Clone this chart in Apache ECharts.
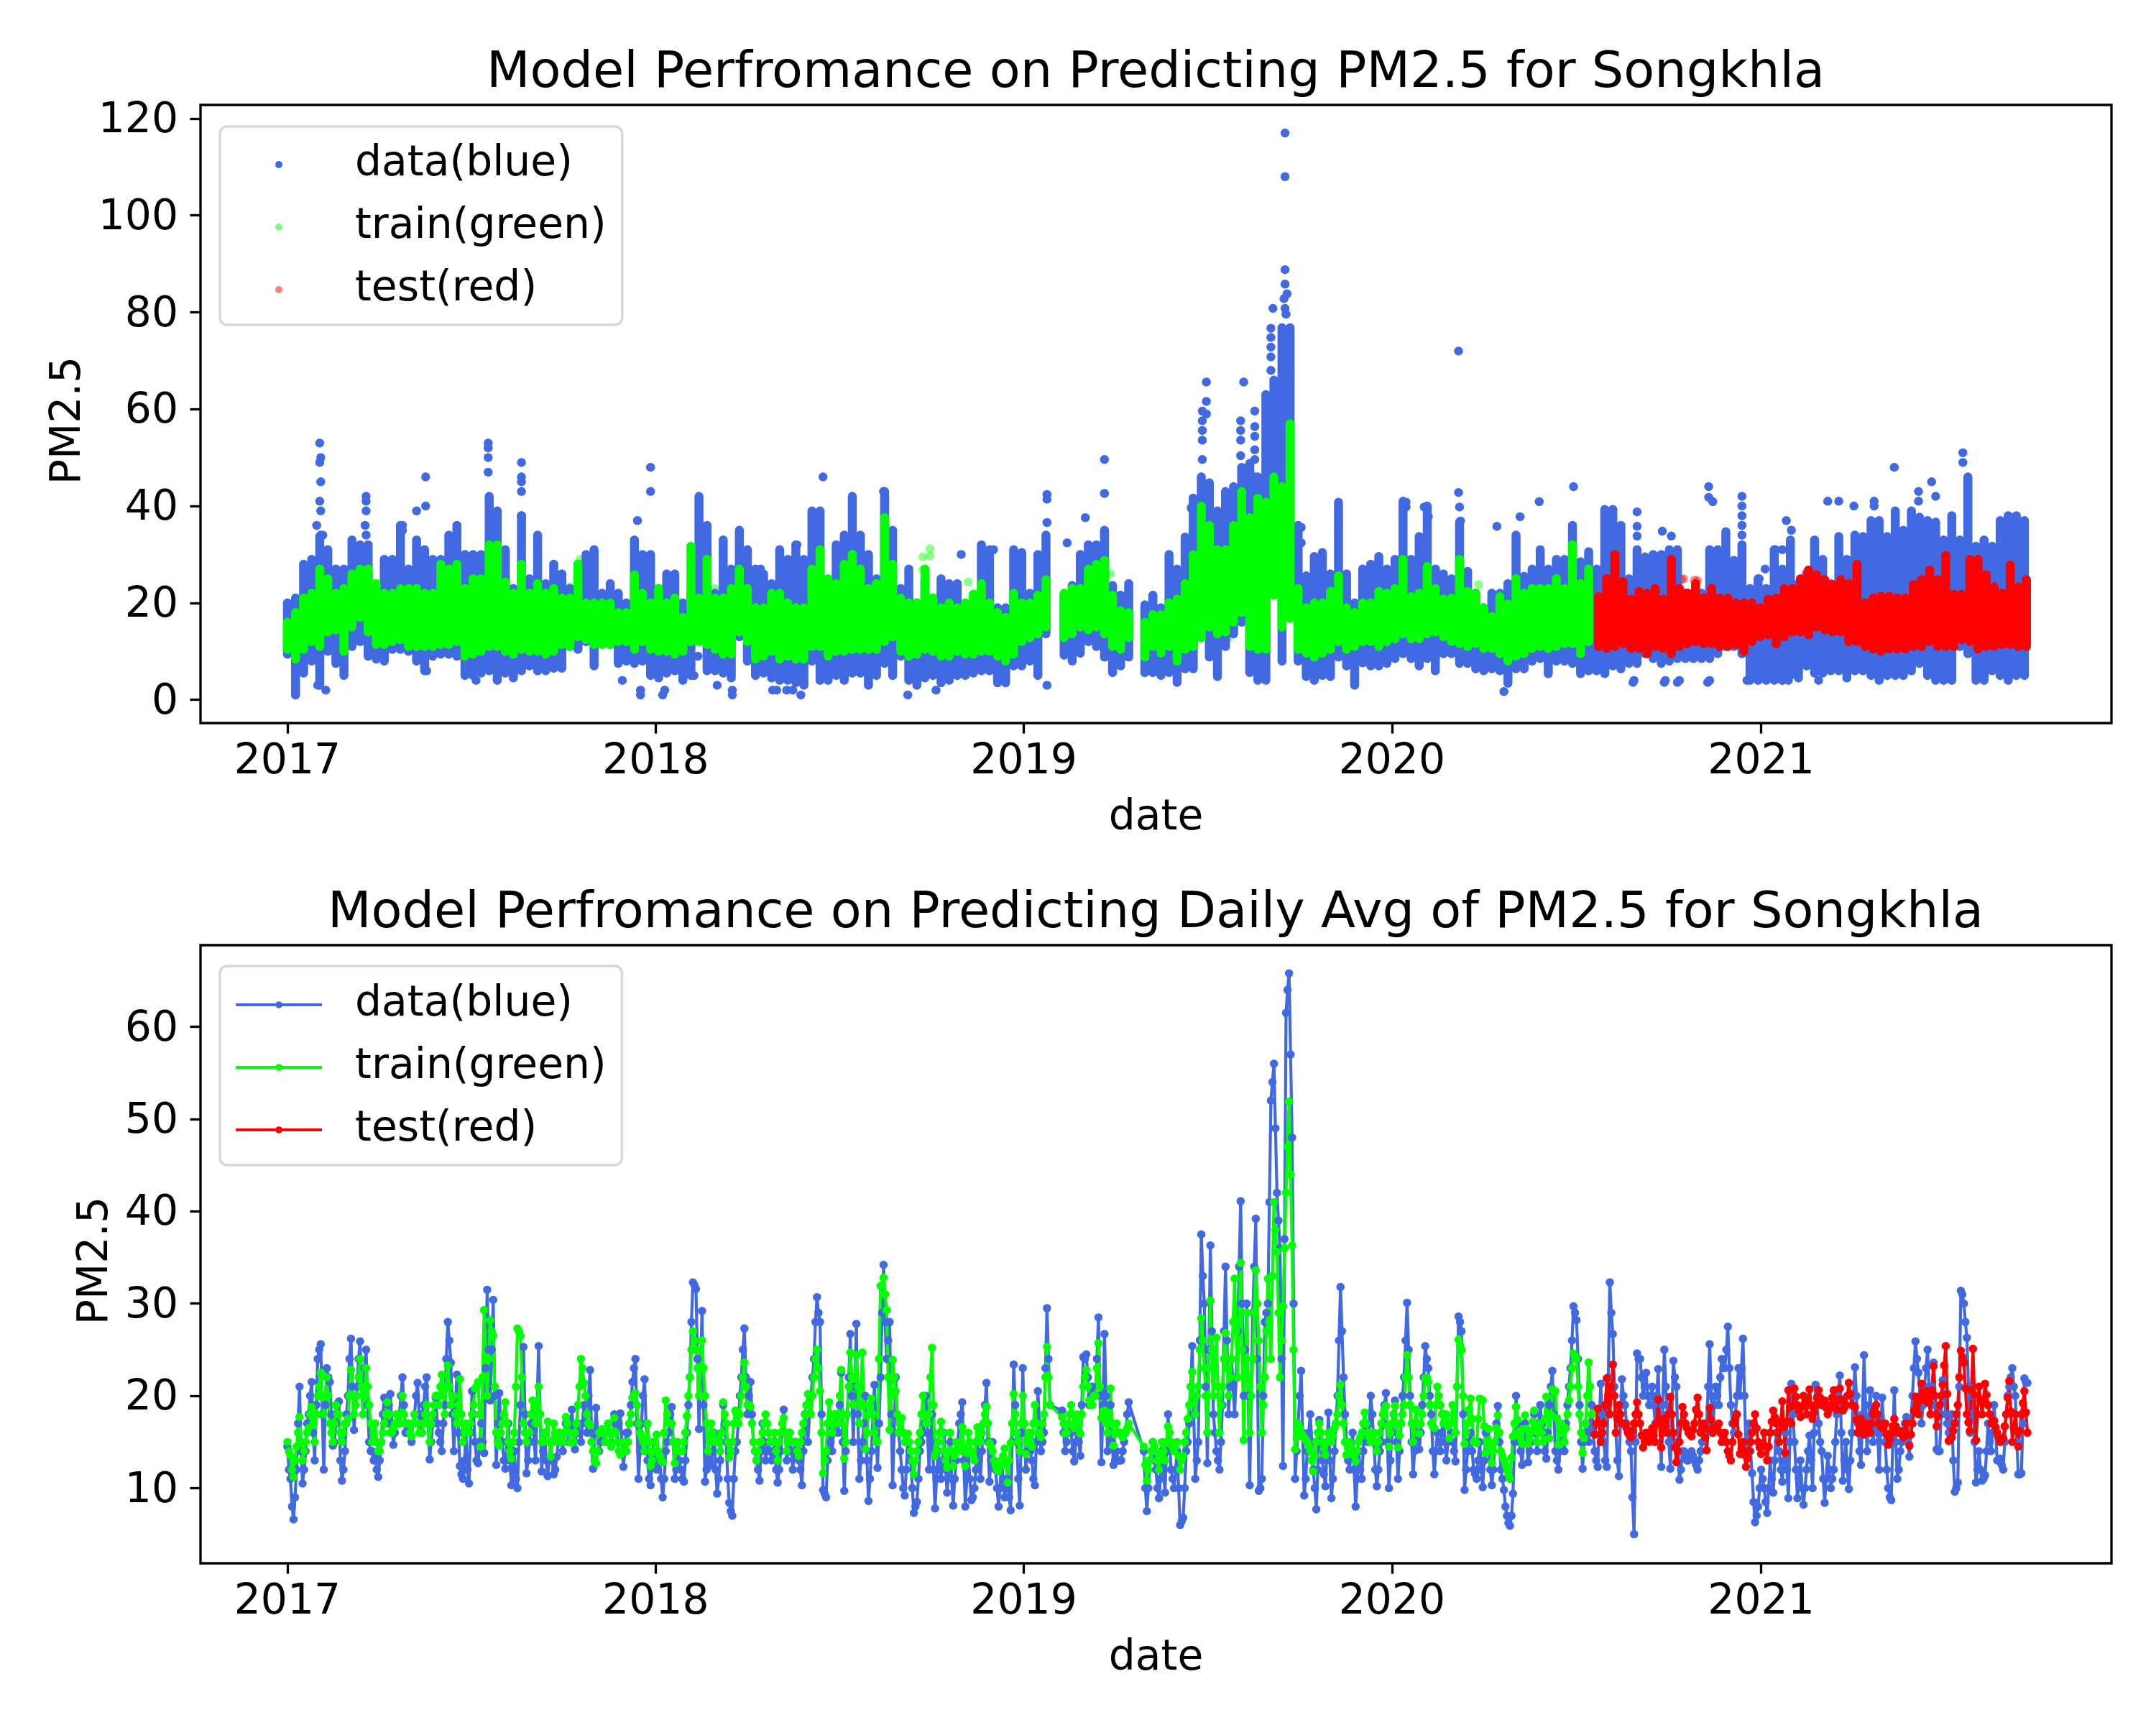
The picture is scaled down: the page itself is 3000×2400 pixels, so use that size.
<!DOCTYPE html>
<html><head><meta charset="utf-8">
<style>html,body{margin:0;padding:0;background:#fff}#c{width:3000px;height:2400px}</style>
<script src="https://cdn.jsdelivr.net/npm/echarts@6/dist/echarts.min.js"></script>
</head><body><div id="c"></div>
<script>
const topTitle='Model Perfromance on Predicting PM2.5 for Songkhla';
const bottomTitle='Model Perfromance on Predicting Daily Avg of PM2.5 for Songkhla';
const tickYears=[2017,2018,2019,2020,2021];
const topYTicks=[0,20,40,60,80,100,120];
const bottomYTicks=[10,20,30,40,50,60];
const seriesNames=['data(blue)','train(green)','test(red)'];

// TOP PANEL: hourly readings, seen as a solid range per 8-day column (days since 2017-01-01)
const colStartsA=0, colCountA=95;      // 2017-01-01 .. early 2019
const colStartsB=770, colCountB=9;     // between the two data gaps of 2019
const colStartsC=850, colCountC=110;   // rest of the record
const blueHi=[20,21,28,29,33.7,31,27,27,33,32,
32,21,29,29,36,27,33,31,29,29,
34,36,30,30,30,42,39,31,23,38,
25,34,24,28,26,23,28,30,31,22,
24,22,20,33,30,30,23,26,26,20,
22,42,36,22,33,27,35,31,27,26,
24,31,29,32,29,39,39,23,32,34,
42,34,30,25,43,35,23,27,20,25,
21,25,24,24,19,20,32,31,19,19,
31,30.4,22,30,34,
21.6,23.6,30,32,32,35,23.6,21.6,24,
19.6,21.6,19,30,27,33.6,41.6,46,44.8,39,
43,44,48,48.8,46,63,66,76.8,76.8,36,
25.6,29.6,30.4,26,40.8,26,20,27,28,29.6,
27,29,41,29,33.7,40,27,26,25,36.7,
26.5,22,19,22,22,24,34,25.5,27,31,
27,29,29,36,28.5,30.6,27,39.3,39.3,36,
25,31,29.5,30,30,31,31,22,22,22,
31,31,34.7,28.8,31.7,23,25,23,31,27,
33,24,26,33,29,24,33.7,29,34,33.7,
37,37,33.7,39,35,39,37.7,37,36.7,33,
38,33,46,31.7,33,31.7,37,38,38,37];
const blueLo=[9.4,1,5.5,8,3,10,7.5,5,11,12,
9,8.4,8,10.4,10.4,10,8,6,9,9.4,
9.4,9,5,5,5.5,6,4,5.5,4.5,6,
7,6,6,6.5,6.5,11,10.4,12,7,12,
11.4,7.5,8,7.5,8,5,4.5,5.5,6,4,
5,13,6,6,5.5,4.5,13,8,5,5.5,
4.5,4,4,3.5,3,8,4,4,5,4,
5.5,5.5,3,5,7.5,5,9,4,3,4.5,
5,3.5,4,5,5,5.5,6,6,3.5,3.5,
7,7,8,5,13.6,
9.2,8,9.6,12,11,8.8,5.6,7,8.8,
5.6,5.6,5,5.6,3.6,6.4,6.4,13.6,8.8,4.8,
11,13.6,16,5.6,4,4,21.6,8,20.8,8,
4.8,4,5,4.8,8.8,7,3,7.6,7,7,
7.5,8.5,9.5,8.5,7,8.5,6,9.5,9.5,7.5,
7.5,6.4,6,6.4,6,3.4,6.4,6.4,8,8.5,
5.4,8,8,7.5,5.4,6,6,5.4,7,6.4,
7.5,7.5,9.5,8.5,7.5,8,8.5,8.5,8.5,8.5,
8.5,9.5,11,11,9.5,4,4,4,4,4,
5,4.5,7,5.5,5.5,6,6,4.5,6,6,
5,4,5,5,5,6,7.5,5,4,4,
4,11,9.5,4,4,6,5,4,5,5];
const greenHi=[16,18,21,22,27,25,22,23,26,27,
27,24,22,22,23,23,23,22,22,28,
27,28,23,25,25,32,32,24.3,22,28,
22,24,22,23,21,21,28,20,20,20,
20,18,18,25.8,22,20,23,20,21,17,
31.7,21,29,21,21,23,27,23,19,19,
22,22,20,19,19,27,31,25,24,28,
30,27,23,24,37.6,28,21,20,20,27,
21,19,20,19,20,21.8,24,20,18,17,
22,20,20,21.6,24.8,
22,23,23,27,28,28.8,21.6,18.4,18,
16,17.6,17.6,20,20.8,24,30,40,36,31,
31,36,43,37.6,41.6,40.8,46,44,57,23,
19,20,20,22.4,25.6,19,18,20,20,22.4,
22,23,29,21.3,22,27.5,23,20.8,21,29,
22.4,22,19,17.2,21.3,19.8,25,22,23,23,
23,25,23,32,24,27];
const greenLo=[10.4,8.4,10.4,12,11,14,14.4,10,15,17,
14,11.4,11.4,12,12.4,11,11,11,11,11.4,
11.4,12,9,9.4,10,11,11,10,9.4,10.4,
10,10,9.4,10,11.4,11,13,12.4,11.4,11.4,
11.4,12,12,10.4,12,10.4,10,10,9.4,10,
12,12,11.4,10.4,9.4,9.4,14,12,8.4,9,
10,8.4,9,8.4,8.4,11,11,9,10,10,
10.4,10.4,10.4,10.4,12,13,10,9,9.4,10.4,
10,9,9,10,9.4,9.4,10,10,9,8,
9.4,12,12.8,13.6,15,
12.8,13.6,15,14.4,15,13.6,11,10.4,12.8,
8.8,11,9.6,11,8,10.4,11,12.8,15,13.6,
14,16,18,11,10.4,10.4,21.6,15,16.8,10.4,
9.6,8.8,9.6,10.4,12,10.4,11,12,12,11,
12,12.6,13.6,12.6,12.6,13.6,14,13,12,11.6,
11,11.6,10.6,10.6,9.5,8,9,9.5,10.6,11,
10.6,11,11.6,11.6,9.5,12];
const redStart=1300;
const redHi=[21.3,25,30,24.4,20.8,22.4,22,23,20.8,29,
23,22,24,21,23,21,21,20,20,20,
19,20.8,21,23,23,25,26.8,25.8,24.8,23.8,
24.8,24,28,20,21,21.4,21.4,21,21,23.8,
24.8,26.8,24.8,29.8,21.8,21.8,29,29,25.8,23.3,
22,27.8,23.3,24.8];
const redLo=[11,10.6,11,11.6,10.6,10.6,9.5,11,10.6,9.5,
11,11.6,12,11.6,11.6,11,11,11.4,10,12,
13,13.4,11.5,13,14,14,13.4,15,14.4,14,
14,12,12,11,10.5,10,10.5,10.5,10.5,11,
11,12,11,11,11,12.4,12,10.5,11,11,
11.4,11.4,11,11];
// isolated readings that stand clear of the ranges
const blueDotDays=[32,33,32,33,32,33,29,33,35,78,78,78,77,78,137,137,128,114,114,199,199,199,199,232,232,232,232,232,347,332,350,350,38,30,8,187,138,360,360,372,374,441,441,531,481,485,495,501,509,615,643,591,426,403,407,469,668,505,700,989,989,989,989,991,988,989,990,977,975,975,975,975,975,911,911,911,907,907,907,907,907,948,959,959,959,959,959,959,945,945,945,945,753,753,753,753,810,810,791,773,898,896,1005,1005,1161,1161,1162,1163,1109,1109,1127,1131,1241,1222,1199,1275,1338,1338,1338,1363,1372,1334,1365,1378,1408,1206,1409,1409,1413,1661,1661,1593,1630,1617,1617,1634,1527,1538,1553,1573,1573,1442,1442,1442,1442,1442,1442,1335,1366,1380,1410,1447,1482,1488,1518,1486,1491,1475,1482,1465,1459];
const blueDotVals=[53,50,49,45,41,39,36,34,34,42,41,39,36,34,46,40,39,36,35,53,52,50,47,49,46,45,43,38,37,4,2,1,2,3,1,4,6,48,43,1,2,1,2,46,2,2,2,2,1,1,2,43,3,5,9,27,30,32,31,117,108,88.8,85.8,83.8,82.8,80.8,79.6,80.8,76.7,74.8,72.8,70.8,68,65.6,61.6,59,59.6,57.6,55.6,53.6,49.6,65.6,59.6,56.4,54.4,51.6,49.6,46,57.6,55.6,53.6,50.4,3,42.4,41.4,36.6,49.6,42.6,37.6,32.4,41.6,39.6,35.6,32.4,72,42.8,39.8,36.9,40.8,39.8,39.8,37.8,40.9,37.8,35.8,44,38.8,35.8,33.8,34.8,33.8,3.6,3.6,3.6,3.6,1.7,44,41.8,40.9,51,49,48,45,43,41,42,41,41,40,41,40,42,40,38,36,34,32,4,4,4,4,4,4,4,4,37,35,31,31,27,25];
const greenDotDays=[630,637,637,630,424,360,675,683,697,816,854,973,978,933,290,78,78,280,248,1139,1154,1181,1150,1092,994,990,1000];
const greenDotVals=[29.5,31.2,29.7,26.9,23,26,24.3,21.8,21.4,26,19.6,54.8,54.8,12.8,29,28.7,30,23.3,27,27,23.4,23.8,22,25,30,57,33];
const redDotDays=[1370,1395,1382,1389,1351,1342,1314,1315,1372,1384,1398,1353,1343,1506,1519,1550,1645,1671];
const redDotVals=[29.3,24.7,24.8,22,9.5,10.5,30.3,30.7,29.5,25,24.6,9.7,10,26.3,27.3,28.5,31,31];

// BOTTOM PANEL: daily averages, read every 3rd day (null = no reading)
const dailyStep=3;
const dailyBlue=[14.5,11,6.6,12,21,10.5,14,18,21.5,13,
24,25.6,12,23,21.5,14.6,17,19.4,10.8,14,
20,26.2,16.3,21,25.9,18,25,15,14,13.3,
11.2,15,19.8,17,20.2,14.7,17,18,22,16,
17,15,18,21.4,16,19,22,13.1,17,19.8,
16,14,19,28,23.6,14,22.3,12.4,11,16,
10.5,20.5,15,12.7,17,13.8,31.5,19.5,30.4,12.5,
20.3,15,12.1,17,10.3,14,10,19,25.3,11.6,
15,18,13,25.4,11.8,16,11.3,15,11.5,13.4,
16,14,17,15,18.5,14.2,17,15,19,16,
22.8,12.1,18.7,14,16,15,17,14.5,18,15,
18.1,12.3,16,17,21.5,24,11,17,21.8,13,
10.3,15,12,13,9,14,16,18.8,11,14,
12,10.7,16,22,32.3,31.6,16.4,29.2,10.7,14,
12.5,16,9.4,13,19,15,8.4,7,14,17,
22,27.3,18,21.5,15,13,10.8,17,13,15,
13,15,10.6,14,18.5,13,16,12,15,13,
10.3,18,15,20,24,30.7,28,9.8,9,17,
14,18,16,22.5,9.7,18,26.7,15,27.8,11,
15,20,8.6,14,21.2,12.2,22,34.2,24,28,
10.3,22,16,12,9.2,15,13,7.3,8.5,14,
16,20,12,18,7.8,14,11,16,9.5,15,
8.1,13,17,19.3,8,14,8.7,10,15,11,
17,21.4,10.7,15,12,8,13,9,11,7.6,
23.4,15,8.1,23,12,16,13,10.3,20.5,14,
16,29.5,19,null,null,null,18.4,14,17,16,
12.9,17,13.5,24.2,24.5,19,21,20,28.5,12.8,
26.7,14,19,12.5,14,13,14,16,19.3,null,
null,null,null,14,7.5,13,15,12,8.9,14,
9.5,18,12,10,14,6,6.8,14,17,25.4,
11,15,37.5,30,12.7,36.3,18,14,12,19,
34,18,24,18,27,41.1,20,30,10.3,29,
39.2,9.7,11,28,30,52,56,42,36,12.4,
61.5,65.8,48,11,17,22.7,9.2,14,18,12,
7.7,17.4,13,10.2,18.2,8.9,14,20,31.8,22,
15,12,16,8,14,11,17,15,20,15,
10.2,14,17,20.3,10,16,19.5,11,17,22,
30.1,20,11.5,17,14.2,19,25.4,23,18,11.5,
16,14,18,13,17,15,12.9,28.6,27,9.8,
14,16,12,11,15,10.1,16,14,10.3,15,
18.9,12,9.8,7,5.9,9.4,20,15,12.5,17,
12.8,15,18,14,19,16,13.2,19,22.7,14,
12,16,14,19,23,29.7,28.2,19,12.1,17,
15,19,14,12.3,21.3,15,12.3,32.3,26.7,16,
11.3,21.8,19,16,14,5,24.6,24,20,22.5,
19,21,17,22.9,12.3,25,18,12.1,23.8,21,
10.9,14,13.5,13,14,13,12,14,16,17,
25.6,16,21,19,24,23,27.5,19,16,20,
20,26.2,14,17,11.6,6.3,8,12,10,7.3,
13,9.5,16,14,10.7,16,8.9,21.3,15,8.9,
13,8.2,12,15.7,10,21.2,17,14,8.4,13.5,
10,12,18,22.2,10.8,15,9.9,16,23.1,17,
12.5,24.4,14,20.6,15,20,12,19.8,15,10,
8.7,20.6,11,14,16,17.7,13.4,20,25.9,22.5,
17,21,25,18,23.6,14.2,14,21.7,18,16,
18,9.6,10.6,31.4,30,26.3,16,20,10.6,14,
10.8,11.4,17,14,19,13,13.2,12,18,21,
23,20,11.5,11.6,21.9,21.4];
// readings between those above (1.5 days later)
const dailyBlueBetween=[12,8,9,17,14,12,17,20,16,19,
25,18,19,22,18,15,18,13,12,18,
24,21,19,24,21,23,19,14,13,12,
13,18,18,19,17,16,17,20,19,16,
16,17,20,18,18,21,17,15,18,17,
15,17,24,26,18,19,16,11.5,13,12,
16,18,13,15,15,23,25,25,20,17,
17,13,15,13,12,11,15,22,18,13,
17,15,19,18,14,13,13,13,12,15,
15,16,16,17,16,16,16,17,18,20,
16,16,16,15,16,16,16,16,17,17,
15,14,16,19,23,17,14,20,17,11,
13,13,12,11,11,15,18,15,12,13,
11,13,19,28,32,24,23,19,12,13,
14,12,11,16,17,11,7.5,11,15,20,
25,22,20,18,14,12,14,15,14,14,
14,12,12,16,16,14,14,14,14,12,
14,17,18,22,28,29,18,9.4,13,15,
16,17,19,15,14,22,20,21,18,13,
17,13,11,18,16,17,29,28,26,18,
16,18,14,10,12,14,10,8,11,15,
17,16,15,12,11,12,13,12,12,11,
11,15,18,13,11,11,9,12,13,14,
19,15,13,13,10,10,11,10,9,15,
19,11,16,17,14,14,11,15,17,15,
23,24,null,null,null,null,16,15,16,14,
15,15,19,24,22,20,20,24,20,19,
20,16,15,13,13,13,15,18,null,null,
null,null,null,10,10,14,13,10,11,12,
14,15,11,12,10,6.4,10,15,21,18,
13,26,33,21,25,27,16,13,15,27,
26,21,21,22,34,30,25,20,20,34,
24,10,20,29,41,54,49,39,24,37,
64,57,30,14,20,16,11,16,15,10,
12,15,11.5,14,13,11,17,26,27,18,
13,14,12,11,12,14,16,17,18,12,
12,15,19,15,13,18,15,14,20,26,
25,15,14,15,16,22,24,20,14,14,
15,16,15,15,16,14,21,28,18,12,
15,14,11.5,13,12,13,15,12,12,17,
15,11,8,6.2,7,15,17,14,15,15,
14,16,16,17,17,14,16,21,18,13,
14,15,17,21,26,29,24,15,15,16,
17,16,13,17,18,13,22,29,21,13,
17,20,17,15,9,15,24,22,21,20,
20,19,20,17,19,21,15,18,22,15,
12,14,13,13.5,13.5,12.5,13,15,16,21,
20,19,20,22,23,25,23,17,18,23,
23,20,15,14,8.5,7,10,11,8.5,10,
11,13,15,12,13,12,15,18,12,11,
10,10,14,13,16,19,15,11,11,12,
11,15,20,16,13,12,13,20,20,14,
18,19,17,18,17,16,16,17,12,9,
15,15,12,15,17,15,17,23,24,20,
19,23,21,21,19,14,18,20,17,17,
13,10,21,31,28,21,18,15,12,12,
11,14,15,16,16,13,12.5,15,20,22,
21,15,11.5,17,21.5];
const dailyGreen=[15,13.5,11.2,14.5,17.7,13,15,16.5,18.8,15,
20,22.5,18,22,17,15,19,18,15,17,
17.5,22.8,18,20,24,18,23,19,15,17,
14,15,17,19.3,16,16.5,18,17,20,17,
17,15.6,18,17,16,17,19,15,18,20,
19,22.3,18,23.3,19,20,17,21.8,15,17,
16,18,20.8,21.5,14.5,29.3,20,28.2,26.5,16,
14.6,17,19.3,15,13.2,16,27.3,26.5,17,15,
16,19.5,17,21,15,16,17.2,13.4,17,15,
16,15,17.7,16,14.9,16,19,24,21.4,18,
16.8,14,12.7,16,16.4,15,17,14.5,17.6,15,
13.6,15,14,17,19.8,20.3,17,15.6,14,17,
12.4,14,15.8,13.5,12.8,19.5,17,17,12.7,15,
14,15,17.8,22,27,25,20,26,20,14,
17,15,15.3,14,19.3,17,13.3,15,18.4,17,
20,23.6,19,18.8,15,13,15,16,18,16,
15,16,13,16,17.6,14,16,15,15,13.5,
16,18,20.2,18,22,25,20.5,11.6,14,19.3,
16,18,17,22.8,13.2,18,24.7,19,24.4,17,
24.7,14.2,18,19.7,16,15,31.9,32.8,29.3,16.3,
23.9,20.5,16,17.6,15,15.9,14,11.5,14,16,
20,17,18,25.2,13.5,15,17.2,14,12.2,16,
12.4,15,14,16.6,12.4,16,14,13,16.6,15,
17,18.8,14.9,14,12.5,11.8,13,14.3,10.6,14.9,
20.2,16,14,20,13.7,16,14.5,19,16,15.5,
18,25.3,19,null,null,null,17.7,15.9,17,19,
16.5,18,15.9,21,22.8,19.5,19,20,25.7,17.6,
18.4,16,20.8,14.6,17,16,15.5,16,17,null,
null,null,null,14.5,10.8,13,15,14,12,15,
13,16.7,15,14,15,12,13.5,16,19,22.6,
18,21,28.4,23,16,30.3,20,26.3,16,21,
26.8,20,24,32.7,22,34.4,15.2,29,16,24,
33.6,26,16,22,32.7,24,41,35.6,22,29.7,
42,51.9,36.3,14.2,17,16,15.5,15,14,11.8,
15,17,15,13.6,16,15,16.5,18,21.2,17,
13.6,15,14,12.9,15,16,18.2,16,15,16,
14,16,18,18.9,14.5,17,18.9,14.4,17,19,
24.4,19,15,18.5,15.9,18,21.9,21.5,17,16.5,
21,19,17,18,15.4,19,16,26.1,25,14.8,
17,19.7,15,14.9,19.7,19.5,13.8,16.4,12.7,15,
17.9,14,13,12,11,15.6,18.8,16,14.8,17.9,
14.8,16,18.4,15,17,15,19.9,15.4,20.7,20.5,
14.7,17,15,18,21,24.6,24,18,13.8,17,
23.6,18];
const dailyGreenBetween=[14,12,13,16,15,14,16,18,17,18,
21,20,20,20,16,17,18,16,16,17,
20,20,19,22,21,20,21,17,16,15,
14,16,18,18,16,17,17,18,18,17,
16,17,17,16,16,18,17,17,19,20,
21,20,21,21,20,18,19,18,16,16,
17,19,21,18,22,24,24,27,21,15,
16,18,17,14,15,21,27,22,16,16,
18,18,19,18,15,16,15,15,16,16,
15,16,17,15,15,17,21,23,20,17,
15,13,14,16,16,16,16,16,16,14,
14,14,15,18,20,19,16,15,15,15,
13,15,14,13,16,18,17,15,14,14,
14,16,20,25,26,23,23,23,17,15,
16,15,15,16,18,15,14,17,18,18,
22,21,19,17,14,14,15,17,17,15,
15,14,15,17,16,15,15,15,14,15,
17,19,19,20,24,23,16,13,17,18,
17,18,20,18,15,21,22,22,21,21,
19,16,19,18,15,24,32,31,22,20,
22,18,17,16,15,15,13,13,15,18,
18,17,22,19,14,16,16,13,14,14,
13.5,14.5,15,14.5,14,15,13.5,15,16,16,
18,17,14.5,13,12,12.5,13.5,12.5,13,17,
18,15,17,17,15,15,17,17,16,17,
22,22,null,null,null,null,17,16,18,18,
17,17,18,22,21,19,20,23,21,18,
17,18,17,16,16,16,16,16.5,null,null,
null,null,null,12.5,12,14,14.5,13,13.5,14,
15,16,14.5,14.5,13.5,13,15,17.5,21,20,
20,25,26,20,23,25,23,21,19,24,
23,22,28,27,28,25,22,22,20,29,
30,21,19,27,28,33,38,29,26,36,
47,44,25,15.5,16.5,15.7,15.2,14.5,13,13.5,
16,16,14.3,15,15.5,15.7,17,20,19,15,
14.3,14.5,13.5,14,15.5,17,17,15.5,15.5,15,
15,17,18.5,16.7,16,18,17,15.7,18,22,
22,17,17,17,17,20,22,19,16.7,19,
20,18,17.5,16.7,17,17.5,21,25.5,20,16,
18.5,17.5,15,17.5,19.6,16.7,15,14.5,14,16.5,
16,13.5,12.5,11.5,13.3,17,17.4,15.4,16.4,16.4,
15.4,17.2,16.7,16,16,17.5,17.6,18,20.6,17.6,
16,16,16.5,19.5,23,24.3,21,16,15.4,20,
21];
const redDailyStart=1296;
const dailyRed=[15.8,18.6,15,17,21.9,18,23.4,16,19,17,
17,16,15.5,17,19.3,17,14.4,16,15,16.5,
15,19.6,14.4,17.5,16,19.9,16,12.8,15,18.8,
17,16,15.6,17,19.8,16,17,14.1,18.7,16,
16.5,17,15,16,14,13,17,18,13.7,15,
12.3,14,16,18,15,13.7,16,13,16,18.4,
17,15,19.4,13.8,20.6,17,20.8,19,17.7,20,
18,20.7,17.5,19,20.6,19,19.5,18,19,20.6,
18.5,20.8,18.4,19,21.4,19,18.8,16,17.5,15.8,
17,16,18,19,17,16.5,17,14.7,16,17.5,
16,16.2,15.5,17,14.6,17,19.9,18,21.3,19.5,
20.5,18,23.2,16.7,19,21.2,25.4,15.1,15.5,17,
19,24.9,23.6,18,16.2,25.1,15.2,21,18,21.3,
19,17,17.3,16,15,15.4,18,21.6,15,18,
14.5,18,20.5,16];
const dailyRedBetween=[17,17,16,19,20,21,20,17.5,18,17,
16.5,15.7,16.2,18,18,15.7,15,15.5,15.7,15.7,
17,17,16,16.7,18,18,14.4,14,17,18,
16.5,15.8,16.3,18.5,18,16.5,15.5,16.4,17.4,16.2,
16.7,16,15.5,15,13.5,15,17.5,15.8,14.3,13.6,
13.2,15,17,16.5,14.4,14.8,14.5,14.5,17.2,17.7,
16,17.2,16.6,17.2,18.8,18.9,19.9,18.4,18.8,19,
19.4,19,18.2,19.8,19.8,19.2,18.7,18.5,19.8,19.5,
19.6,19.6,18.7,20,20.2,18.9,17.4,16.7,16.6,16.4,
16.5,17,18.5,18,16.7,16.7,15.8,15.3,16.7,16.7,
16.1,15.8,16.2,15.8,15.8,18.4,19,19.6,20.4,20,
19.2,20.6,20,17.8,20,23.3,20.2,15.3,16.2,18,
22,24.2,20.8,17.1,20.6,20.1,18,19.5,19.6,20.1,
18,17.1,16.6,15.5,15.2,16.7,19.8,18.3,16.5,16.2,
16.2,19.2,18.2];

// x values are days since 2017-01-01
const DAY=86400000, T0=Date.UTC(2017,0,1);
const xMin=-86.2, xMax=1808.3;
const yearTicks=tickYears.map(y=>(Date.UTC(y,0,1)-T0)/DAY);

function columnDays(){
  const a=[];
  for(let i=0;i<colCountA;i++)a.push(colStartsA+8*i);
  for(let i=0;i<colCountB;i++)a.push(colStartsB+8*i);
  for(let i=0;i<colCountC;i++)a.push(colStartsC+8*i);
  return a;
}
function rangeRows(days,lo,hi){
  const r=[];
  days.forEach((d,i)=>{r.push([d,lo[i]],[d,hi[i]],[d,null]);});
  return r;
}
const dotRows=(ds,vs)=>ds.map((d,i)=>[d,vs[i]]);
function dailyRows(start,vs,between){
  const r=[];
  vs.forEach((v,i)=>{
    r.push([start+i*dailyStep,v]);
    if(i<between.length)r.push([start+i*dailyStep+dailyStep/2,between[i]]);
  });
  return r;
}
const allDays=columnDays();
const greenDays=allDays.slice(0,greenHi.length);
const redDays=redHi.map((_,i)=>redStart+8*i);

const BLUE='#4169e1',GREEN='#00ff00',RED='#ff0000';
const FONT='DejaVu Sans', FS=58.33, LW=3.33;

function rangeSeries(name,color,rows){
  return {name,type:'line',xAxisIndex:0,yAxisIndex:0,data:rows,symbol:'none',showSymbol:false,
    connectNulls:false,silent:true,lineStyle:{color,width:12.5,cap:'round',join:'round'},itemStyle:{color}};
}
function dotSeries(name,color,rows,opacity){
  return {name,type:'scatter',xAxisIndex:0,yAxisIndex:0,data:rows,symbol:'circle',symbolSize:12.5,silent:true,
    itemStyle:{color,opacity}};
}
function dailySeries(name,color,rows){
  return {name,type:'line',xAxisIndex:1,yAxisIndex:1,data:rows,symbol:'circle',symbolSize:11.5,showSymbol:true,showAllSymbol:true,
    connectNulls:true,silent:true,lineStyle:{color,width:4.17},itemStyle:{color}};
}
function xAxis(gridIndex){
  return {type:'value',gridIndex,min:xMin,max:xMax,name:'date',nameLocation:'middle',nameGap:104,
    nameTextStyle:{fontFamily:FONT,fontSize:FS,color:'#000'},
    axisLine:{show:false,onZero:false},splitLine:{show:false},
    axisTick:{show:true,length:14.6,lineStyle:{color:'#000',width:LW},customValues:yearTicks},
    axisLabel:{show:true,margin:26,fontFamily:FONT,fontSize:FS,color:'#000',customValues:yearTicks,hideOverlap:false,
      formatter:v=>String(new Date(T0+v*DAY).getUTCFullYear())}};
}
function yAxis(gridIndex,min,max,ticks,nameGap){
  return {type:'value',gridIndex,min,max,name:'PM2.5',nameLocation:'middle',nameGap,nameRotate:90,
    nameTextStyle:{fontFamily:FONT,fontSize:FS,color:'#000',padding:[0,18,0,0]},
    axisLine:{show:false,onZero:false},splitLine:{show:false},
    axisTick:{show:true,length:14.6,lineStyle:{color:'#000',width:LW},customValues:ticks},
    axisLabel:{show:true,margin:31,verticalAlign:'top',lineHeight:8,fontFamily:FONT,fontSize:FS,color:'#000',customValues:ticks,formatter:v=>String(v)}};
}
function legend(top,data,padding,itemHeight,textPad){
  return {show:true,orient:'vertical',left:306,top,padding,itemGap:27,itemWidth:120,itemHeight,
    backgroundColor:'rgba(255,255,255,0.8)',borderColor:'#d6d6d6',borderWidth:3.33,borderRadius:10,
    lineStyle:{width:4.17},selectedMode:false,
    textStyle:{fontFamily:FONT,fontSize:FS,color:'#000',lineHeight:60,padding:[0,0,0,textPad]},data};
}
const bottomNames=seriesNames.map(n=>n+' ');

const option={
  animation:false,backgroundColor:'#fff',
  title:[
    {text:topTitle,left:1603,top:63,textAlign:'center',textStyle:{fontFamily:FONT,fontSize:70.2,fontWeight:'normal',color:'#000'}},
    {text:bottomTitle,left:1603,top:1232,textAlign:'center',textStyle:{fontFamily:FONT,fontSize:70.2,fontWeight:'normal',color:'#000'}}
  ],
  grid:[
    {left:279,top:146,width:2659,height:860,show:true,borderColor:'#000',borderWidth:LW,backgroundColor:'#fff'},
    {left:279,top:1315,width:2659,height:860,show:true,borderColor:'#000',borderWidth:LW,backgroundColor:'#fff'}
  ],
  xAxis:[xAxis(0),xAxis(1)],
  yAxis:[yAxis(0,-4.8,122.8,topYTicks,154),yAxis(1,1.85,68.85,bottomYTicks,115)],
  legend:[
    legend(176,[
      {name:seriesNames[0],icon:'circle',itemStyle:{color:BLUE}},
      {name:seriesNames[1],icon:'circle',itemStyle:{color:GREEN,opacity:.5}},
      {name:seriesNames[2],icon:'circle',itemStyle:{color:RED,opacity:.5}}],[23,22,19,77],10,41),
    legend(1344,bottomNames.map(n=>({name:n})),[24,3,19,20],12,41)
  ],
  series:[
    dotSeries(seriesNames[0],BLUE,dotRows(blueDotDays,blueDotVals),1),
    rangeSeries(seriesNames[0],BLUE,rangeRows(allDays,blueLo,blueHi)),
    dotSeries(seriesNames[1],GREEN,dotRows(greenDotDays,greenDotVals),.45),
    rangeSeries(seriesNames[1],GREEN,rangeRows(greenDays,greenLo,greenHi)),
    dotSeries(seriesNames[2],RED,dotRows(redDotDays,redDotVals),.45),
    rangeSeries(seriesNames[2],RED,rangeRows(redDays,redLo,redHi)),
    dailySeries(bottomNames[0],BLUE,dailyRows(0,dailyBlue,dailyBlueBetween)),
    dailySeries(bottomNames[1],GREEN,dailyRows(0,dailyGreen,dailyGreenBetween)),
    dailySeries(bottomNames[2],RED,dailyRows(redDailyStart,dailyRed,dailyRedBetween))
  ]
};
echarts.init(document.getElementById('c'),null,{renderer:'canvas'}).setOption(option);
</script></body></html>
